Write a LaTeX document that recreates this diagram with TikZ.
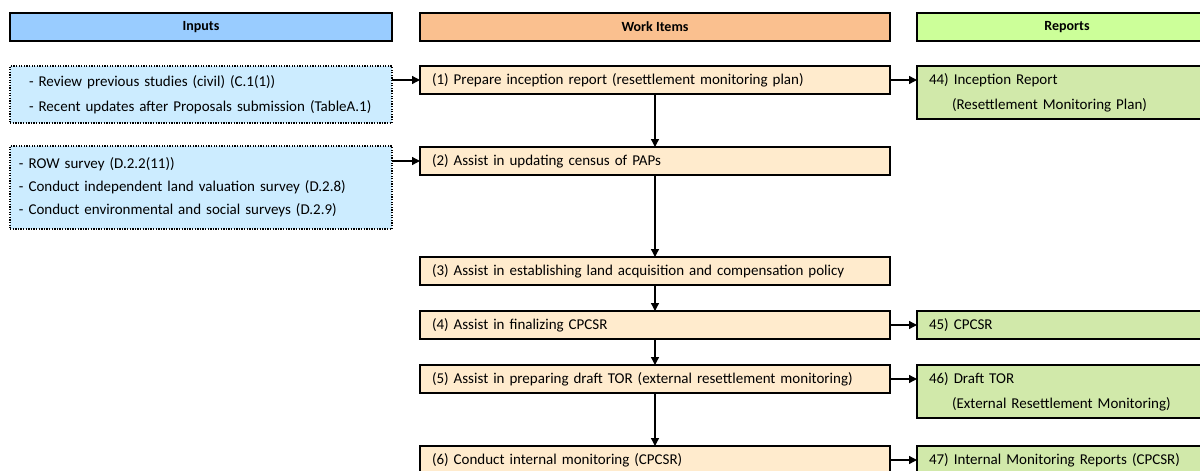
\documentclass[tikz,border=0pt]{standalone}
\usepackage{fontspec}
\setmainfont{Carlito}
\usetikzlibrary{arrows.meta, positioning}
\definecolor{inhead}{RGB}{153,204,255}
\definecolor{infill}{RGB}{204,236,255}
\definecolor{workhead}{RGB}{250,192,143}
\definecolor{workfill}{RGB}{255,235,205}
\definecolor{rephead}{RGB}{204,255,153}
\definecolor{repfill}{RGB}{209,233,170}
\tikzset{
  header/.style={rectangle, minimum height=28pt, text centered, draw=black, line width=1.4pt, inner sep=0pt, outer sep=0pt, font=\fontsize{14}{16}\selectfont\bfseries},
  inputbox/.style={rectangle, minimum width=382pt, inner ysep=0pt, outer sep=0pt, draw=black, line width=1.4pt, dash pattern=on 1.3pt off 1.3pt, fill=infill, align=left, font=\fontsize{15}{25}\selectfont},
  workbox/.style={rectangle, minimum width=470pt, minimum height=28pt, text width=446pt, inner xsep=12pt, inner ysep=0pt, outer sep=0pt, draw=black, line width=1.4pt, fill=workfill, align=left, font=\fontsize{15}{18}\selectfont},
  reportbox/.style={rectangle, minimum width=300pt, text width=276pt, inner xsep=12pt, inner ysep=0pt, outer sep=0pt, draw=black, line width=1.4pt, fill=repfill, align=left, font=\fontsize{15}{25}\selectfont},
  arrow/.style={line width=1.3pt, -{Triangle[length=8pt, width=8pt]}}
}

\begin{document}
\begin{tikzpicture}[x=1pt, y=1pt]
        \useasboundingbox (0,0) rectangle (1200,-471);
        \clip (0,0) rectangle (1200,-471);

        % Column headers
        \node (hdr_in) [header, fill=inhead, minimum width=382pt, anchor=north west] at (10,-13) {Inputs};
        \node (hdr_work) [header, fill=workhead, minimum width=470pt, right=28pt of hdr_in] {Work Items};
        \node (hdr_rep) [header, fill=rephead, minimum width=300pt, right=27pt of hdr_work] {Reports};

        % Inputs
        \node (in1) [inputbox, minimum height=57pt, inner xsep=19pt, text width=344pt, below=25pt of hdr_in.south west, anchor=north west] {- Review previous studies (civil) (C.1(1))\\- Recent updates after Proposals submission (TableA.1)};
        \node (in2) [inputbox, minimum height=83pt, inner xsep=9pt, text width=364pt, font=\fontsize{15}{23}\selectfont, below=23pt of in1] {- ROW survey (D.2.2(11))\\- Conduct independent land valuation survey (D.2.8)\\- Conduct environmental and social surveys (D.2.9)};

        % Work items
        \node (w1) [workbox, below=25pt of hdr_work] {(1) Prepare inception report (resettlement monitoring plan)};
        \node (w2) [workbox, below=53pt of w1] {(2) Assist in updating census of PAPs};
        \node (w3) [workbox, below=82pt of w2] {(3) Assist in establishing land acquisition and compensation policy};
        \node (w4) [workbox, below=26pt of w3] {(4) Assist in finalizing CPCSR};
        \node (w5) [workbox, below=26pt of w4] {(5) Assist in preparing draft TOR (external resettlement monitoring)};
        \node (w6) [workbox, below=53pt of w5] {(6) Conduct internal monitoring (CPCSR)};

        % Reports
        \node (r44) [reportbox, minimum height=53pt, right=27pt of w1.north east, anchor=north west] {44) Inception Report\\\hspace*{23pt}(Resettlement Monitoring Plan)};
        \node (r45) [reportbox, minimum height=28pt, right=27pt of w4] {45) CPCSR};
        \node (r46) [reportbox, minimum height=53pt, right=27pt of w5.north east, anchor=north west] {46) Draft TOR\\\hspace*{23pt}(External Resettlement Monitoring)};
        \node (r47) [reportbox, minimum height=28pt, right=27pt of w6.north east, anchor=north west] {47) Internal Monitoring Reports (CPCSR)};

        % Inputs to work items
        \draw [arrow] (in1.east |- w1.west) -- (w1.west);
        \draw [arrow] (in2.east |- w2.west) -- (w2.west);

        % Work item sequence
        \draw [arrow] (w1) -- (w2);
        \draw [arrow] (w2) -- (w3);
        \draw [arrow] (w3) -- (w4);
        \draw [arrow] (w4) -- (w5);
        \draw [arrow] (w5) -- (w6);

        % Work items to reports
        \draw [arrow] (w1.east) -- (w1.east -| r44.west);
        \draw [arrow] (w4) -- (r45);
        \draw [arrow] (w5.east) -- (w5.east -| r46.west);
        \draw [arrow] (w6.east) -- (w6.east -| r47.west);
\end{tikzpicture}
\end{document}
